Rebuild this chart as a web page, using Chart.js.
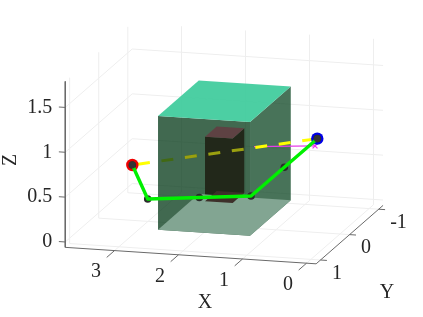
<!DOCTYPE html>
<html>
<head>
<meta charset="utf-8">
<script src="https://cdn.jsdelivr.net/npm/chart.js@4"></script>
<style>
  html, body { margin: 0; padding: 0; background: #fff; }
  #wrap { width: 423px; height: 317px; }
</style>
</head>
<body>
<div id="wrap"><canvas id="chart" width="423" height="317"></canvas></div>
<script>
// values: [x, y, z]
const pathX = [3.245, 2.595, 1.789, 0.981, 0.643, 0.355];
const pathY = [0, 0.9, 0.9, 0.9, 0.5, 0];
const pathZ = [0.557, 0.464, 0.517, 0.573, 0.795, 0.986];

const straightX = [3.245, 0.355];
const straightY = [0, 0];
const straightZ = [0.557, 0.986];

const crossX = [1.344, 0.39];
const crossY = [0, 0];
const crossZ = [0.852, 0.903];

const boxX = [1.0875, 2.525];
const boxY = [-0.7, 0.7];
const boxZ = [0.068, 1.336];

const columnX = [1.586, 2.018];
const columnY = [-0.2, 0.2];
const columnZ = [0.268, 0.987];

const xTicks = [0, 1, 2, 3];
const yTicks = [-1, 0, 1];
const yTickLabels = ["-1", "0", "1"];
const zTicks = [0, 0.5, 1, 1.5];
const zTickLabels = ["0", "0.5", "1", "1.5"];

const xLim = [-0.15, 3.77];
const yLim = [-1.15, 1.15];
const zLim = [-0.06, 1.79];

// view of the 3d axes on the page
function project(x, y, z) {
  return { x: 340 - 64 * x - 29.1 * y, y: 228.6 - 4.2 * x + 25.4 * y - 89.7 * z };
}

function pts(list) {
  return list.map(p => project(p[0], p[1], p[2]));
}

function line(data, color, width, extra) {
  return Object.assign({ data: pts(data), borderColor: color, borderWidth: width, showLine: true, fill: false, pointRadius: 0, tension: 0 }, extra || {});
}

function face(data, color) {
  return { data: pts(data), borderColor: "transparent", borderWidth: 0, backgroundColor: color, showLine: true, fill: "shape", pointRadius: 0, tension: 0 };
}

function dot(p, radius, color) {
  return { data: pts(p), showLine: false, pointRadius: radius, pointBackgroundColor: color, pointBorderWidth: 0 };
}

const gridColor = "#eeeeee";
const axisColor = "#6a6a6a";
const datasets = [];

// grid on the two back walls and the floor
xTicks.forEach(v => {
  datasets.push(line([[v, yLim[1], zLim[0]], [v, yLim[0], zLim[0]], [v, yLim[0], zLim[1]]], gridColor, 1));
});
yTicks.forEach(v => {
  datasets.push(line([[xLim[0], v, zLim[0]], [xLim[1], v, zLim[0]], [xLim[1], v, zLim[1]]], gridColor, 1));
});
zTicks.forEach(v => {
  datasets.push(line([[xLim[1], yLim[1], v], [xLim[1], yLim[0], v], [xLim[0], yLim[0], v]], gridColor, 1));
});

const [bx0, bx1] = boxX, [by0, by1] = boxY, [bz0, bz1] = boxZ;
const [cx0, cx1] = columnX, [cy0, cy1] = columnY, [cz0, cz1] = columnZ;
const straight = [[straightX[0], straightY[0], straightZ[0]], [straightX[1], straightY[1], straightZ[1]]];
const dashes = { borderDash: [12, 11.7], borderDashOffset: 18 };

// right side of the box, with the magenta and yellow lines over it
datasets.push(face([[bx0, by0, bz0], [bx0, by1, bz0], [bx0, by1, bz1], [bx0, by0, bz1], [bx0, by0, bz0]], "rgba(16,72,38,0.765)"));
datasets.push(line([[crossX[0], crossY[0], crossZ[0]], [crossX[1], crossY[1], crossZ[1]]], "#e83ce8", 1.2));
datasets.push({ data: pts([[crossX[1], crossY[1], crossZ[1]]]), pointStyle: "crossRot", pointRadius: 3.5, pointBorderColor: "#f030f0", pointBorderWidth: 1.2, showLine: false });
datasets.push(line(straight, "#ffff00", 3, dashes));

// box front and top
datasets.push(face([[bx0, by1, bz0], [bx1, by1, bz0], [bx1, by1, bz1], [bx0, by1, bz1], [bx0, by1, bz0]], "rgba(7,59,26,0.765)"));
datasets.push(face([[bx0, by0, bz1], [bx1, by0, bz1], [bx1, by1, bz1], [bx0, by1, bz1], [bx0, by0, bz1]], "rgba(66,204,158,0.95)"));

// inner column
datasets.push(face([[cx1, cy1, cz0], [cx0, cy1, cz0], [cx0, cy0, cz0], [cx0, cy0, cz1], [cx0, cy1, cz1], [cx1, cy1, cz1], [cx1, cy1, cz0]], "#22281a"));
datasets.push(face([[cx0, cy0, cz1], [cx1, cy0, cz1], [cx1, cy1, cz1], [cx0, cy1, cz1], [cx0, cy0, cz1]], "#5e4243"));

// box floor, then the column foot on it
datasets.push(face([[bx0, by0, bz0], [bx1, by0, bz0], [bx1, by1, bz0], [bx0, by1, bz0], [bx0, by0, bz0]], "#82a592"));
datasets.push(face([[cx0, cy0, cz0], [cx1, cy0, cz0], [cx1, cy1, cz0], [cx0, cy1, cz0], [cx0, cy0, cz0]], "#3d302a"));

// the part of the yellow line that looks olive inside the box
datasets.push(line(straight, "#9aa010", 3, Object.assign({ clip: { left: -180, right: -173, top: 0, bottom: 0 } }, dashes)));

// start and goal rings
datasets.push(dot([[pathX[0], pathY[0], pathZ[0]]], 6.2, "#f00000"));
datasets.push(dot([[pathX[5], pathY[5], pathZ[5]]], 6.2, "#0000e6"));

// path
const pathPoints = pathX.map((v, i) => [v, pathY[i], pathZ[i]]);
datasets.push(dot(pathPoints, 3.8, "#2b2b2b"));
datasets.push(line(pathPoints, "#00f000", 3.4, { borderJoinStyle: "round" }));
datasets.push(dot([pathPoints[0], pathPoints[5]], 3.4, "#333333"));

// axis rulers with ticks
const corner = [xLim[0], yLim[1], zLim[0]];
datasets.push(line([[xLim[1], yLim[1], zLim[1]], [xLim[1], yLim[1], zLim[0]], corner, [xLim[0], yLim[0], zLim[0]]], axisColor, 1));
xTicks.forEach(v => datasets.push(line([[v, yLim[1], zLim[0]], [v, yLim[1] + 0.27, zLim[0]]], axisColor, 1)));
yTicks.forEach(v => datasets.push(line([[xLim[0], v, zLim[0]], [xLim[0] - 0.1, v, zLim[0]]], axisColor, 1)));
zTicks.forEach(v => datasets.push(line([[xLim[1], yLim[1], v], [xLim[1] + 0.1, yLim[1], v]], axisColor, 1)));

// chart.js paints the first dataset last, so flip the list
datasets.reverse();

// text, laid out next to the rulers
const labelPlugin = {
  id: "axisText",
  afterDatasetsDraw(chart) {
    const ctx = chart.ctx;
    const put = (text, x, y, align) => {
      ctx.font = '20px "Liberation Serif", serif';
      ctx.fillStyle = "#262626";
      ctx.textAlign = align || "center";
      ctx.textBaseline = "middle";
      ctx.fillText(text, x, y);
    };
    ctx.save();
    xTicks.forEach(v => {
      const p = project(v, yLim[1], zLim[0]);
      put(String(v), p.x - 18.5, p.y + 21.5);
    });
    yTicks.forEach((v, i) => {
      const p = project(xLim[0], v, zLim[0]);
      put(yTickLabels[i], p.x + 11.5, p.y + 13.3, "left");
    });
    zTicks.forEach((v, i) => {
      const p = project(xLim[1], yLim[1], v);
      put(zTickLabels[i], p.x - 13, p.y, "right");
    });
    put("X", 205, 303);
    put("Y", 387, 293);
    ctx.translate(11, 160);
    ctx.rotate(-Math.PI / 2);
    put("Z", 0, 0);
    ctx.restore();
  }
};

new Chart(document.getElementById("chart"), {
  type: "scatter",
  data: { datasets: datasets },
  plugins: [labelPlugin],
  options: {
    responsive: false,
    animation: false,
    layout: { padding: 0, autoPadding: false },
    plugins: { legend: { display: false }, tooltip: { enabled: false } },
    scales: {
      x: { type: "linear", display: false, min: 0, max: 423 },
      y: { type: "linear", display: false, min: 0, max: 317, reverse: true }
    }
  }
});
</script>
</body>
</html>
